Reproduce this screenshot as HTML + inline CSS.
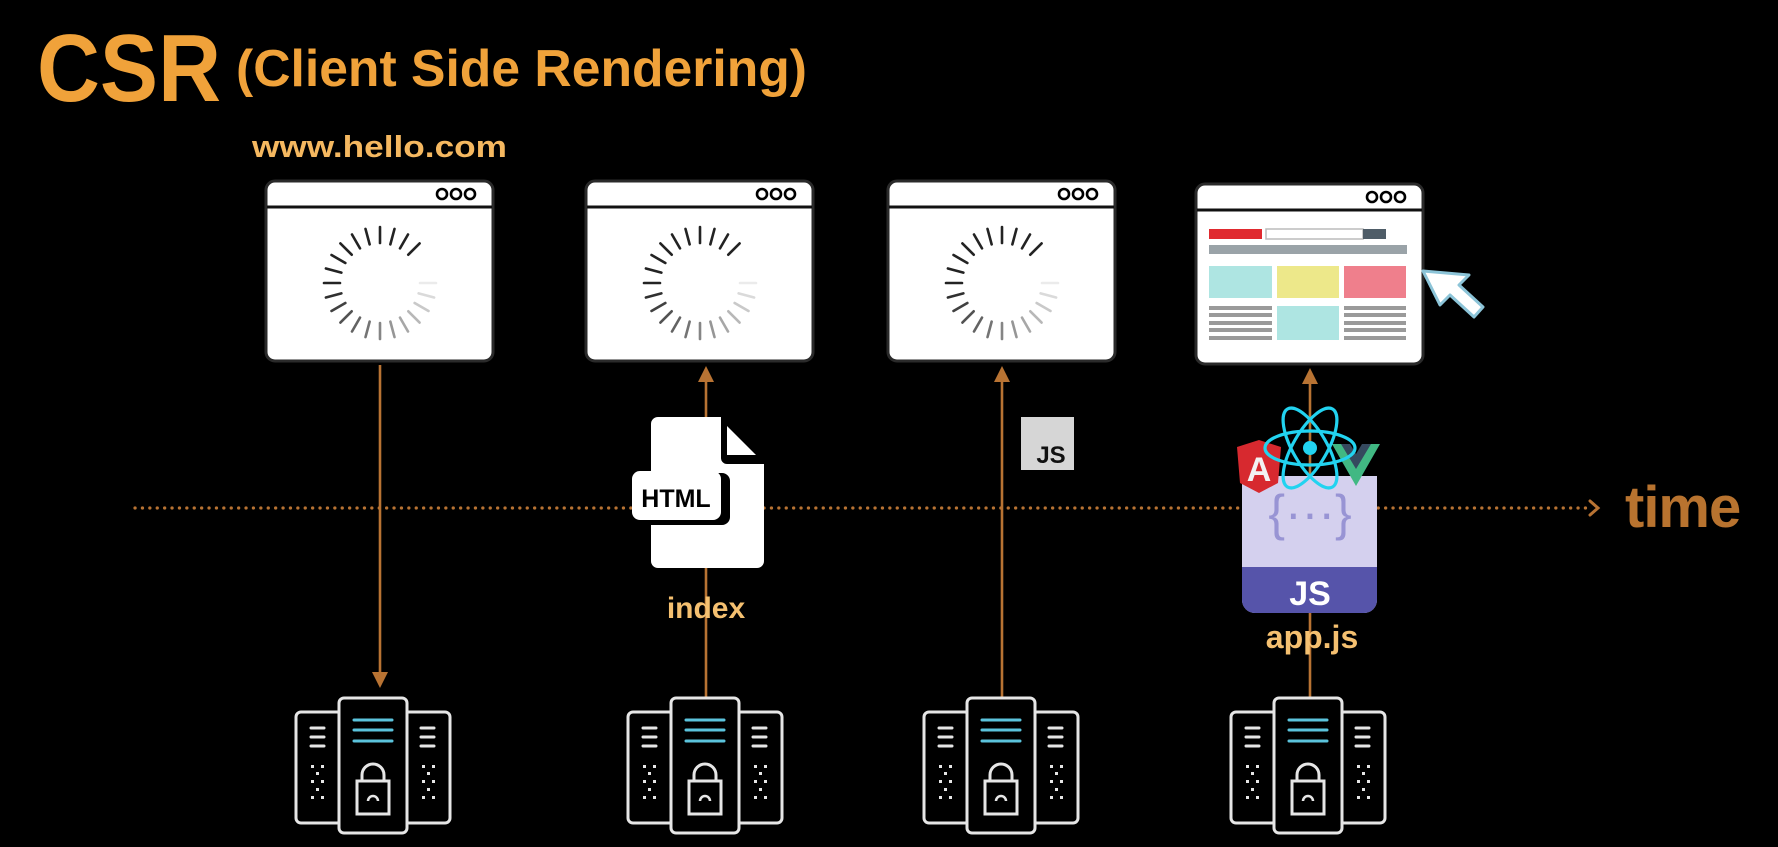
<!DOCTYPE html>
<html><head><meta charset="utf-8"><style>
html,body{margin:0;padding:0;background:#000;width:1778px;height:847px;overflow:hidden}
svg{display:block}
.t{font-family:"Liberation Sans Narrow","Liberation Sans",sans-serif;font-weight:bold}
.s{font-family:"Liberation Sans",sans-serif;font-weight:bold}
</style></head><body>
<svg width="1778" height="847" viewBox="0 0 1778 847" xmlns="http://www.w3.org/2000/svg">
<defs>
<g id="spin" stroke-width="2.6" stroke-linecap="round">
<line x1="40" y1="0" x2="56" y2="0" stroke="#ebebeb" transform="rotate(0)"/>
<line x1="40" y1="0" x2="56" y2="0" stroke="#dadada" transform="rotate(15)"/>
<line x1="40" y1="0" x2="56" y2="0" stroke="#c9c9c9" transform="rotate(30)"/>
<line x1="40" y1="0" x2="56" y2="0" stroke="#b8b8b8" transform="rotate(45)"/>
<line x1="40" y1="0" x2="56" y2="0" stroke="#a7a7a7" transform="rotate(60)"/>
<line x1="40" y1="0" x2="56" y2="0" stroke="#969696" transform="rotate(75)"/>
<line x1="40" y1="0" x2="56" y2="0" stroke="#858585" transform="rotate(90)"/>
<line x1="40" y1="0" x2="56" y2="0" stroke="#747474" transform="rotate(105)"/>
<line x1="40" y1="0" x2="56" y2="0" stroke="#636363" transform="rotate(120)"/>
<line x1="40" y1="0" x2="56" y2="0" stroke="#525252" transform="rotate(135)"/>
<line x1="40" y1="0" x2="56" y2="0" stroke="#414141" transform="rotate(150)"/>
<line x1="40" y1="0" x2="56" y2="0" stroke="#303030" transform="rotate(165)"/>
<line x1="40" y1="0" x2="56" y2="0" stroke="#232323" transform="rotate(180)"/>
<line x1="40" y1="0" x2="56" y2="0" stroke="#232323" transform="rotate(195)"/>
<line x1="40" y1="0" x2="56" y2="0" stroke="#232323" transform="rotate(210)"/>
<line x1="40" y1="0" x2="56" y2="0" stroke="#232323" transform="rotate(225)"/>
<line x1="40" y1="0" x2="56" y2="0" stroke="#232323" transform="rotate(240)"/>
<line x1="40" y1="0" x2="56" y2="0" stroke="#232323" transform="rotate(255)"/>
<line x1="40" y1="0" x2="56" y2="0" stroke="#232323" transform="rotate(270)"/>
<line x1="40" y1="0" x2="56" y2="0" stroke="#232323" transform="rotate(285)"/>
<line x1="40" y1="0" x2="56" y2="0" stroke="#232323" transform="rotate(300)"/>
<line x1="40" y1="0" x2="56" y2="0" stroke="#232323" transform="rotate(315)"/>
</g>
<g id="brw">
<rect x="0" y="0" width="227" height="180" rx="9" fill="#fff" stroke="#2a2a2a" stroke-width="3"/>
<line x1="1" y1="26" x2="226" y2="26" stroke="#111" stroke-width="3"/>
<circle cx="176" cy="13" r="5" fill="none" stroke="#000" stroke-width="2.6"/>
<circle cx="190" cy="13" r="5" fill="none" stroke="#000" stroke-width="2.6"/>
<circle cx="204" cy="13" r="5" fill="none" stroke="#000" stroke-width="2.6"/>
</g>
<g id="srv" stroke="#e6e6e6" stroke-width="3" fill="#000">
<rect x="-77" y="712" width="46" height="111" rx="5"/>
<rect x="31" y="712" width="46" height="111" rx="5"/>
<rect x="-34" y="698" width="68" height="135" rx="5"/>
<g stroke-linecap="round" stroke-width="3">
<line x1="-62" y1="728" x2="-49" y2="728"/><line x1="-62" y1="737" x2="-49" y2="737"/><line x1="-62" y1="746" x2="-49" y2="746"/>
<line x1="48" y1="728" x2="61" y2="728"/><line x1="48" y1="737" x2="61" y2="737"/><line x1="48" y1="746" x2="61" y2="746"/>
<line x1="-19" y1="720" x2="19" y2="720" stroke="#5bc3dc"/><line x1="-19" y1="730" x2="19" y2="730" stroke="#5bc3dc"/><line x1="-19" y1="741" x2="19" y2="741" stroke="#5bc3dc"/>
</g>
<g fill="#e6e6e6" stroke="none">
<rect x="-62" y="765" width="3" height="3"/><rect x="-52" y="765" width="3" height="3"/><rect x="-57" y="772" width="3" height="3"/><rect x="-62" y="780" width="3" height="3"/><rect x="-52" y="780" width="3" height="3"/><rect x="-57" y="788" width="3" height="3"/><rect x="-62" y="796" width="3" height="3"/><rect x="-52" y="796" width="3" height="3"/>
<rect x="49" y="765" width="3" height="3"/><rect x="59" y="765" width="3" height="3"/><rect x="54" y="772" width="3" height="3"/><rect x="49" y="780" width="3" height="3"/><rect x="59" y="780" width="3" height="3"/><rect x="54" y="788" width="3" height="3"/><rect x="49" y="796" width="3" height="3"/><rect x="59" y="796" width="3" height="3"/>
</g>
<path d="M-11 781 V775 A11 11 0 0 1 11 775 V781" fill="none"/>
<rect x="-16" y="781" width="32" height="33" fill="none"/>
<path d="M-5 801 A5 5 0 0 1 5 801" fill="none" stroke-width="2.5"/>
</g>
</defs>

<text x="37" y="101" class="t" font-size="96" fill="#f0a23a" textLength="184" lengthAdjust="spacingAndGlyphs">CSR</text>
<text x="236" y="86" class="t" font-size="52" fill="#f0a23a" textLength="571" lengthAdjust="spacingAndGlyphs">(Client Side Rendering)</text>
<text x="252" y="157" class="t" font-size="31" fill="#f5b860" textLength="255" lengthAdjust="spacingAndGlyphs">www.hello.com</text>

<!-- timeline -->
<line x1="135" y1="508" x2="1592" y2="508" stroke="#b87333" stroke-width="3.2" stroke-dasharray="0.1 7.3" stroke-linecap="round"/>
<path d="M1590 501 L1598 508 L1590 515" fill="none" stroke="#b87333" stroke-width="3" stroke-linecap="round"/>
<text x="1625" y="527" class="s" font-size="58" fill="#b8732f" letter-spacing="-1">time</text>

<!-- vertical connectors -->
<g stroke="#b87333" stroke-width="2.6">
<line x1="380" y1="365" x2="380" y2="674"/>
<line x1="706" y1="380" x2="706" y2="698"/>
<line x1="1002" y1="380" x2="1002" y2="698"/>
<line x1="1310" y1="382" x2="1310" y2="698"/>
</g>
<g fill="#b87333">
<path d="M372 672 L388 672 L380 688 Z"/>
<path d="M698 382 L714 382 L706 366 Z"/>
<path d="M994 382 L1010 382 L1002 366 Z"/>
<path d="M1302 384 L1318 384 L1310 368 Z"/>
</g>

<!-- browsers -->
<use href="#brw" x="266" y="181"/>
<use href="#brw" x="586" y="181"/>
<use href="#brw" x="888" y="181"/>
<use href="#brw" x="1196" y="184"/>
<use href="#spin" x="380" y="283"/>
<use href="#spin" x="700" y="283"/>
<use href="#spin" x="1002" y="283"/>

<!-- browser 4 content -->
<rect x="1209" y="229" width="53" height="10" fill="#e02a2f"/>
<rect x="1266" y="229" width="97" height="10" fill="#fff" stroke="#bbb" stroke-width="1.5"/>
<rect x="1363" y="229" width="23" height="10" fill="#4f5d68"/>
<rect x="1209" y="245" width="198" height="9" fill="#9aa3a8"/>
<rect x="1209" y="266" width="63" height="32" fill="#aee5e2"/>
<rect x="1277" y="266" width="62" height="32" fill="#ede88a"/>
<rect x="1344" y="266" width="62" height="32" fill="#ef7f8c"/>
<rect x="1277" y="306" width="62" height="34" fill="#aee5e2"/>
<g fill="#9a9a9a">
<rect x="1209" y="306" width="63" height="4"/><rect x="1209" y="313" width="63" height="4"/><rect x="1209" y="321" width="63" height="4"/><rect x="1209" y="328" width="63" height="4"/><rect x="1209" y="336" width="63" height="4"/>
<rect x="1344" y="306" width="62" height="4"/><rect x="1344" y="313" width="62" height="4"/><rect x="1344" y="321" width="62" height="4"/><rect x="1344" y="328" width="62" height="4"/><rect x="1344" y="336" width="62" height="4"/>
</g>
<!-- cursor -->
<path d="M1423 271 L1469 275 L1459 285 L1483 307 L1474 317 L1450 295 L1440 305 Z" fill="#fff" stroke="#8cc4d8" stroke-width="3" stroke-linejoin="round"/>

<!-- HTML file -->
<path d="M658 417 H721 V458 A6 6 0 0 0 727 464 H764 V561 A7 7 0 0 1 757 568 H658 A7 7 0 0 1 651 561 V424 A7 7 0 0 1 658 417 Z" fill="#fff"/>
<path d="M727 426 L756 455 H727 Z" fill="#fff"/>
<rect x="636" y="473" width="94" height="52" rx="8" fill="#000"/>
<rect x="632" y="471" width="89" height="49" rx="8" fill="#fff"/>
<text x="676" y="507" class="s" font-size="25" fill="#000" text-anchor="middle">HTML</text>
<text x="706" y="618" class="s" font-size="30" fill="#f5c070" text-anchor="middle">index</text>

<!-- JS small -->
<rect x="1021" y="417" width="53" height="53" fill="#d6d6d6"/>
<text x="1051" y="463" class="s" font-size="24" fill="#111" text-anchor="middle">JS</text>

<!-- app.js file -->
<path d="M1242 476 H1377 V600 A13 13 0 0 1 1364 613 H1255 A13 13 0 0 1 1242 600 Z" fill="#d4d0ee"/>
<path d="M1242 567 H1377 V600 A13 13 0 0 1 1364 613 H1255 A13 13 0 0 1 1242 600 Z" fill="#5654aa"/>
<text x="1310" y="605" class="s" font-size="34" fill="#fff" text-anchor="middle">JS</text>
<text x="1310" y="530" font-family="Liberation Sans, sans-serif" font-size="50" fill="#9894d4" text-anchor="middle">{···}</text>
<text x="1312" y="648" class="s" font-size="32" fill="#f5c070" text-anchor="middle">app.js</text>
<!-- Angular -->
<path d="M1259 440 L1281 447 L1278 483 L1259 493 L1240 483 L1237 447 Z" fill="#d7292f"/>
<text x="1259" y="481" class="s" font-size="34" fill="#f2f2f2" text-anchor="middle">A</text>
<!-- Vue -->
<path d="M1332 444 H1347 L1356 460 L1365 444 H1380 L1356 486 Z" fill="#41b883"/>
<path d="M1341 444 H1350 L1356 454 L1362 444 H1371 L1356 469 Z" fill="#35495e"/>
<!-- React -->
<g fill="none" stroke="#22d3f0" stroke-width="3.2">
<ellipse cx="1310" cy="448" rx="45" ry="17"/>
<ellipse cx="1310" cy="448" rx="45" ry="17" transform="rotate(60 1310 448)"/>
<ellipse cx="1310" cy="448" rx="45" ry="17" transform="rotate(120 1310 448)"/>
</g>
<circle cx="1310" cy="448" r="7" fill="#22d3f0"/>

<!-- servers -->
<use href="#srv" x="373"/>
<use href="#srv" x="705"/>
<use href="#srv" x="1001"/>
<use href="#srv" x="1308"/>
</svg>
</body></html>
